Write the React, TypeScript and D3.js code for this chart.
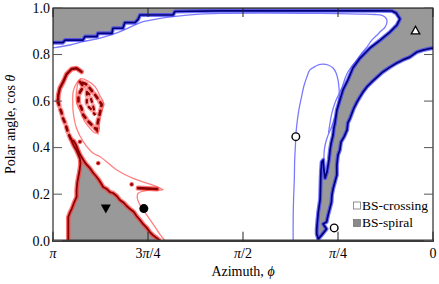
import React, { useEffect } from 'react';
import * as d3 from 'd3';

type P = [number, number];

const W = 439;
const H = 284;
const M = { left: 53, right: 6, top: 8, bottom: 43.3 };

// x values are azimuth / π, y values are cos θ
const xTicks = [1, 0.75, 0.5, 0.25, 0];
const xTickLabels = ['π', '3π/4', 'π/2', 'π/4', '0'];
const yTicks = [0, 0.2, 0.4, 0.6, 0.8, 1.0];
const yTickLabels = ['0.0', '0.2', '0.4', '0.6', '0.8', '1.0'];

const legendLabels = ['BS-crossing', 'BS-spiral'];

// BS-spiral boundary (blue): from right axis, down the band, back up, along top, stairs to left axis
const blueEdge: P[] = [
  [0, 0.828], [0.013, 0.824], [0.026, 0.819], [0.042, 0.811], [0.061, 0.789], [0.079, 0.777],
  [0.095, 0.764], [0.113, 0.746], [0.132, 0.725], [0.147, 0.703], [0.161, 0.682], [0.174, 0.661],
  [0.184, 0.639], [0.192, 0.618], [0.2, 0.596], [0.208, 0.57], [0.213, 0.549], [0.218, 0.527],
  [0.224, 0.506], [0.226, 0.476], [0.234, 0.446], [0.242, 0.424], [0.245, 0.39], [0.25, 0.368],
  [0.253, 0.325], [0.253, 0.282], [0.258, 0.252], [0.263, 0.222], [0.266, 0.196], [0.267, 0.166],
  [0.271, 0.141], [0.276, 0.11], [0.28, 0.08], [0.289, 0.072], [0.28, 0.05], [0.293, 0.024],
  [0.302, 0.007], [0.306, 0.029], [0.306, 0.05], [0.304, 0.089], [0.302, 0.123], [0.297, 0.179],
  [0.296, 0.239], [0.295, 0.295], [0.293, 0.338], [0.289, 0.347], [0.287, 0.304], [0.284, 0.269],
  [0.279, 0.295], [0.274, 0.347], [0.271, 0.39], [0.268, 0.42], [0.263, 0.454], [0.261, 0.484],
  [0.258, 0.506], [0.253, 0.562], [0.245, 0.605], [0.237, 0.648], [0.224, 0.691], [0.211, 0.742],
  [0.192, 0.785], [0.166, 0.828], [0.139, 0.862], [0.113, 0.897], [0.095, 0.927], [0.087, 0.953],
  [0.097, 0.978], [0.108, 0.987], [0.139, 0.988], [0.35, 0.988], [0.561, 0.988], [0.679, 0.985],
  [0.684, 0.97], [0.771, 0.97], [0.776, 0.951], [0.784, 0.937], [0.811, 0.937], [0.816, 0.913],
  [0.842, 0.913], [0.845, 0.891], [0.882, 0.891], [0.884, 0.877], [0.916, 0.877], [0.921, 0.862],
  [0.968, 0.862], [0.974, 0.851], [1, 0.851],
];
const blueCorners: P[] = [[1, 1], [0, 1]];

// light blue contours
const blueLineOuter: P[] = [
  [1, 0.829], [0.955, 0.841], [0.921, 0.855], [0.876, 0.871], [0.832, 0.893], [0.797, 0.918],
  [0.763, 0.941], [0.718, 0.955], [0.684, 0.963], [0.613, 0.974], [0.561, 0.977], [0.297, 0.977],
  [0.192, 0.974], [0.153, 0.972], [0.134, 0.968], [0.124, 0.957], [0.121, 0.944], [0.126, 0.918],
  [0.137, 0.901], [0.147, 0.884], [0.161, 0.862], [0.174, 0.832], [0.187, 0.807], [0.2, 0.777],
  [0.213, 0.751], [0.224, 0.725], [0.232, 0.695], [0.239, 0.661], [0.25, 0.622], [0.258, 0.592],
  [0.266, 0.549], [0.271, 0.506], [0.275, 0.463],
];
const blueLineLoop: P[] = [
  [0.368, 0], [0.368, 0.089], [0.367, 0.175], [0.365, 0.261], [0.364, 0.347], [0.362, 0.411],
  [0.361, 0.447], [0.359, 0.489], [0.353, 0.562], [0.346, 0.618], [0.339, 0.669], [0.332, 0.703],
  [0.324, 0.734], [0.311, 0.748], [0.3, 0.757], [0.289, 0.759], [0.276, 0.755], [0.263, 0.742],
  [0.255, 0.721], [0.25, 0.691], [0.247, 0.648], [0.247, 0.618], [0.25, 0.583], [0.253, 0.549],
  [0.261, 0.519], [0.267, 0.489], [0.276, 0.454], [0.282, 0.424], [0.286, 0.39], [0.287, 0.347],
];

// red (second spiral) region
const redEdge: P[] = [
  [0.96, 0], [0.96, 0.102], [0.955, 0.123], [0.951, 0.136], [0.945, 0.162], [0.938, 0.188],
  [0.938, 0.218], [0.936, 0.252], [0.933, 0.278], [0.93, 0.304], [0.928, 0.33], [0.929, 0.351],
  [0.933, 0.368], [0.939, 0.39], [0.945, 0.407], [0.949, 0.42], [0.951, 0.433],
  [0.945, 0.428], [0.939, 0.411], [0.934, 0.39], [0.928, 0.368], [0.92, 0.347], [0.913, 0.33],
  [0.903, 0.312], [0.894, 0.291], [0.887, 0.278], [0.879, 0.261], [0.874, 0.248], [0.868, 0.231],
  [0.858, 0.222], [0.85, 0.209], [0.842, 0.205], [0.832, 0.192], [0.824, 0.175], [0.813, 0.162],
  [0.806, 0.149], [0.797, 0.136], [0.787, 0.123], [0.78, 0.106], [0.771, 0.089], [0.763, 0.072],
  [0.753, 0.055], [0.745, 0.037], [0.737, 0.024], [0.727, 0.012], [0.718, 0],
];
const redArcSolid: P[] = [
  [0.925, 0.726], [0.938, 0.741], [0.951, 0.738], [0.964, 0.716], [0.973, 0.683], [0.982, 0.655],
  [0.986, 0.626], [0.987, 0.6],
];
const redArcDotted: P[] = [
  [0.987, 0.6], [0.982, 0.57], [0.978, 0.553], [0.974, 0.527], [0.968, 0.505], [0.964, 0.484],
  [0.96, 0.462], [0.953, 0.437], [0.947, 0.419],
];
const redLoopA: P[] = [
  [0.929, 0.683], [0.92, 0.662], [0.929, 0.639], [0.933, 0.618], [0.933, 0.596], [0.925, 0.569],
  [0.92, 0.54], [0.908, 0.514], [0.895, 0.493], [0.885, 0.476], [0.882, 0.51], [0.876, 0.553],
  [0.872, 0.586], [0.887, 0.622], [0.903, 0.655], [0.913, 0.673],
];
const redLoopB: P[] = [
  [0.911, 0.64], [0.911, 0.613], [0.911, 0.583], [0.898, 0.562], [0.889, 0.54], [0.895, 0.583],
  [0.903, 0.626],
];
const redHaloLoop: P[] = [
  [0.929, 0.695], [0.908, 0.686], [0.889, 0.661], [0.876, 0.622], [0.866, 0.587], [0.874, 0.549],
  [0.879, 0.51], [0.879, 0.471], [0.889, 0.463], [0.903, 0.484], [0.916, 0.51], [0.926, 0.549],
  [0.937, 0.587], [0.939, 0.618], [0.937, 0.656],
];
const redLineOuter: P[] = [
  [0.925, 0.698], [0.938, 0.676], [0.947, 0.64], [0.948, 0.597], [0.947, 0.554], [0.938, 0.483],
  [0.92, 0.425], [0.894, 0.376], [0.876, 0.361], [0.832, 0.304], [0.789, 0.268], [0.753, 0.247],
  [0.727, 0.232], [0.71, 0.218], [0.745, 0.218], [0.776, 0.204], [0.778, 0.182], [0.771, 0.153],
  [0.753, 0.11], [0.732, 0.06], [0.714, 0.017], [0.705, 0],
];
const redDash: P[] = [[0.776, 0.226], [0.726, 0.222]];
const redDots: P[] = [[0.881, 0.333], [0.793, 0.242], [0.929, 0.425]];

// markers
const filledCircle: P = [0.761, 0.138];
const downTriangle: P = [0.861, 0.136];
const openCircles: P[] = [[0.361, 0.447], [0.26, 0.055]];
const upTriangle: P = [0.046, 0.905];

const GRAY = '#999999';
const BLUE_DARK = '#00007a';
const BLUE_HALO = '#3a3aff';
const BLUE_LIGHT = '#7a7aff';
const RED_DARK = '#8b0000';
const RED_HALO = '#ff3a3a';
const RED_LIGHT = '#ff8080';
const FONT = 'Liberation Serif';

function splitPi(s: string) {
  const parts = s.split('π');
  const out: React.ReactNode[] = [];
  parts.forEach((p, i) => {
    if (i > 0) out.push(<tspan key={'pi' + i} fontStyle="italic">π</tspan>);
    if (p) out.push(<tspan key={'t' + i}>{p}</tspan>);
  });
  return out;
}

export default function App() {
  useEffect(() => {
    document.body.style.margin = '0';
  }, []);

  const x = d3.scaleLinear().domain([1, 0]).range([M.left, W - M.right]);
  const y = d3.scaleLinear().domain([0, 1]).range([H - M.bottom, M.top]);
  const line = d3.line<P>().x((d) => x(d[0])).y((d) => y(d[1]));
  const closed = d3.line<P>().x((d) => x(d[0])).y((d) => y(d[1])).curve(d3.curveLinearClosed);
  const smooth = d3.line<P>().x((d) => x(d[0])).y((d) => y(d[1])).curve(d3.curveCatmullRom.alpha(0.5));
  const smoothClosed = d3.line<P>().x((d) => x(d[0])).y((d) => y(d[1])).curve(d3.curveCatmullRomClosed.alpha(0.5));

  const x0 = M.left, x1 = W - M.right, y0 = M.top, y1 = H - M.bottom;
  const tickLen = 9;

  const triPath = (cx: number, cy: number, s: number, up: boolean) => {
    const h = s * 0.9;
    return up
      ? `M${cx - s / 2},${cy + h / 2}L${cx + s / 2},${cy + h / 2}L${cx},${cy - h / 2}Z`
      : `M${cx - s / 2},${cy - h / 2}L${cx + s / 2},${cy - h / 2}L${cx},${cy + h / 2}Z`;
  };

  return (
    <svg width={W} height={H} fontFamily={FONT} style={{ position: 'absolute', left: 0, top: 0, background: '#fff' }}>
      <defs>
        <clipPath id="plot">
          <rect x={x0} y={y0} width={x1 - x0} height={y1 - y0} />
        </clipPath>
      </defs>
      <rect x={0} y={0} width={W} height={H} fill="#fff" />
      <g clipPath="url(#plot)">
        <path d={closed([...blueEdge, ...blueCorners]) || ''} fill={GRAY} />
        <path d={closed(redEdge) || ''} fill={GRAY} />

        <path d={smooth(blueLineOuter) || ''} fill="none" stroke={BLUE_LIGHT} strokeWidth={1.3} />
        <path d={smooth(blueLineLoop) || ''} fill="none" stroke={BLUE_LIGHT} strokeWidth={1.3} />
        <path d={smooth(redLineOuter) || ''} fill="none" stroke={RED_LIGHT} strokeWidth={1.3} />
        <path d={smoothClosed(redHaloLoop) || ''} fill="none" stroke={RED_LIGHT} strokeWidth={1.3} />

        <path d={line(blueEdge) || ''} fill="none" stroke={BLUE_HALO} strokeOpacity={0.7} strokeWidth={4} strokeLinejoin="round" />
        <path d={line(redEdge) || ''} fill="none" stroke={RED_HALO} strokeOpacity={0.7} strokeWidth={4.5} strokeLinejoin="round" />
        <path d={line(redArcSolid) || ''} fill="none" stroke={RED_HALO} strokeOpacity={0.7} strokeWidth={5} strokeLinejoin="round" strokeLinecap="round" />
        <path d={line(redArcDotted) || ''} fill="none" stroke={RED_HALO} strokeOpacity={0.6} strokeWidth={5} strokeDasharray="5,4" strokeLinecap="round" />
        <path d={closed(redLoopA) || ''} fill="none" stroke={RED_HALO} strokeOpacity={0.6} strokeWidth={5} strokeDasharray="5,4" strokeLinecap="round" />
        <path d={closed(redLoopB) || ''} fill="none" stroke={RED_HALO} strokeOpacity={0.5} strokeWidth={4.5} strokeDasharray="4,4" strokeLinecap="round" />
        <path d={line(redDash) || ''} fill="none" stroke={RED_HALO} strokeOpacity={0.7} strokeWidth={5} strokeLinecap="round" />

        <path d={line(blueEdge) || ''} fill="none" stroke={BLUE_DARK} strokeWidth={1.7} strokeLinejoin="round" />
        <path d={line(redEdge) || ''} fill="none" stroke={RED_DARK} strokeWidth={1.8} strokeLinejoin="round" />
        <path d={line(redArcSolid) || ''} fill="none" stroke={RED_DARK} strokeWidth={2.4} strokeLinejoin="round" strokeLinecap="round" />
        <path d={line(redArcDotted) || ''} fill="none" stroke={RED_DARK} strokeWidth={2.6} strokeDasharray="4,5" strokeLinecap="round" />
        <path d={closed(redLoopA) || ''} fill="none" stroke={RED_DARK} strokeWidth={2.6} strokeDasharray="4,5" strokeLinecap="round" />
        <path d={closed(redLoopB) || ''} fill="none" stroke={RED_DARK} strokeWidth={2.2} strokeDasharray="3,5" strokeLinecap="round" />
        <path d={line(redDash) || ''} fill="none" stroke={RED_DARK} strokeWidth={2.6} strokeLinecap="round" />
        {redDots.map((d, i) => (
          <circle key={i} cx={x(d[0])} cy={y(d[1])} r={1.8} fill={RED_DARK} stroke={RED_HALO} strokeOpacity={0.6} strokeWidth={1.2} />
        ))}
      </g>

      <rect x={x0} y={y0} width={x1 - x0} height={y1 - y0} fill="none" stroke="#000" strokeWidth={1} />
      <line x1={x0 - 1} x2={x1 + 1} y1={y1} y2={y1} stroke="#3a3a3a" strokeWidth={2.4} />

      {xTicks.map((t, i) => (
        <g key={'xt' + i}>
          <line x1={x(t)} x2={x(t)} y1={y1} y2={y1 - tickLen} stroke="#222" strokeWidth={1} />
          <line x1={x(t)} x2={x(t)} y1={y0} y2={y0 + tickLen} stroke="#222" strokeWidth={1} />
          <text x={x(t)} y={257.5} textAnchor="middle" fontSize={14} fontFamily={FONT} fill="#000">
            {splitPi(xTickLabels[i])}
          </text>
        </g>
      ))}
      {yTicks.map((t, i) => (
        <g key={'yt' + i}>
          <line x1={x0} x2={x0 + tickLen} y1={y(t)} y2={y(t)} stroke="#555" strokeWidth={1} />
          <line x1={x1} x2={x1 - tickLen} y1={y(t)} y2={y(t)} stroke="#555" strokeWidth={1} />
          <text x={50} y={y(t) + 4.8} textAnchor="end" fontSize={14} fontFamily={FONT} fill="#000">
            {yTickLabels[i]}
          </text>
        </g>
      ))}

      <circle cx={x(filledCircle[0])} cy={y(filledCircle[1])} r={4.5} fill="#000" />
      <path d={triPath(x(downTriangle[0]), y(downTriangle[1]), 10, false)} fill="#000" />
      {openCircles.map((d, i) => (
        <circle key={'oc' + i} cx={x(d[0])} cy={y(d[1])} r={3.8} fill="#fff" stroke="#000" strokeWidth={1.4} />
      ))}
      <path d={triPath(x(upTriangle[0]), y(upTriangle[1]), 8.5, true)} fill="#fff" stroke="#000" strokeWidth={1.3} strokeLinejoin="miter" />

      <rect x={353.5} y={202} width={7} height={7} fill="#fff" stroke="#777" strokeWidth={0.8} />
      <text x={362} y={209.5} fontSize={13.5} fontFamily={FONT} fill="#000">{legendLabels[0]}</text>
      <rect x={353.5} y={219.5} width={7} height={7} fill="#8a8a8a" stroke="#777" strokeWidth={0.8} />
      <text x={362} y={227} fontSize={13.5} fontFamily={FONT} fill="#000">{legendLabels[1]}</text>

      <text x={(x0 + x1) / 2} y={276} textAnchor="middle" fontSize={14} fontFamily={FONT} fill="#000">
        Azimuth, <tspan fontStyle="italic">ϕ</tspan>
      </text>
      <text transform={`translate(14.5,${(y0 + y1) / 2}) rotate(-90)`} textAnchor="middle" fontSize={14} fontFamily={FONT} fill="#000">
        Polar angle, cos <tspan fontStyle="italic">θ</tspan>
      </text>
    </svg>
  );
}
